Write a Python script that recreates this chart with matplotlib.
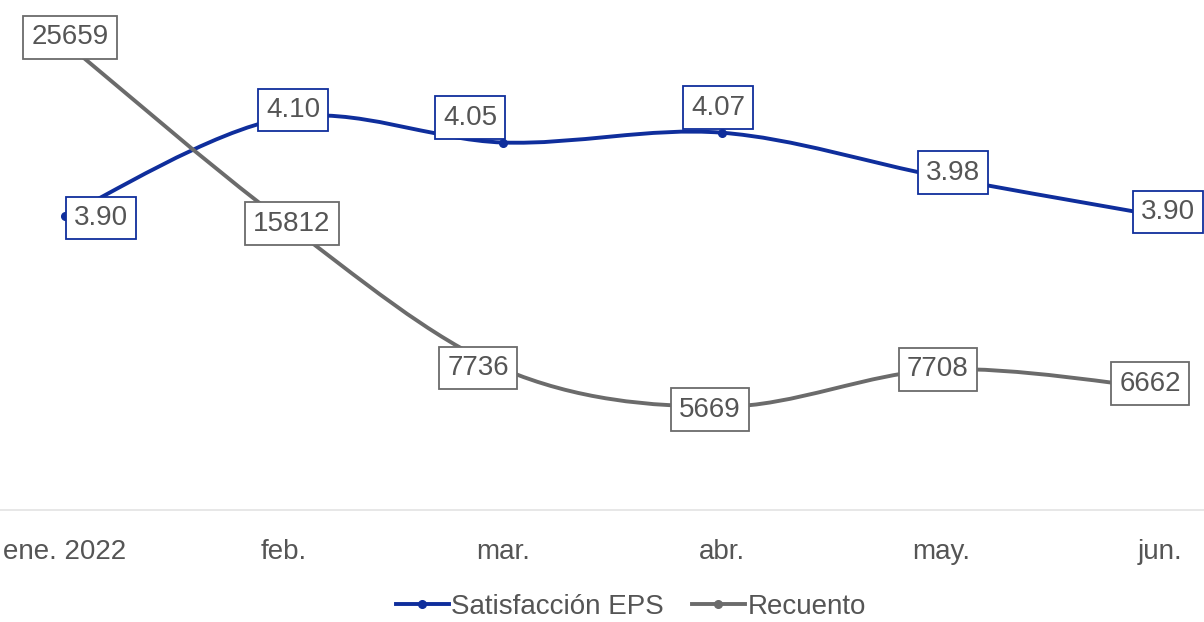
import numpy as np
import matplotlib
matplotlib.use("Agg")
import matplotlib.pyplot as plt
from matplotlib.path import Path
from matplotlib.patches import PathPatch
from matplotlib.lines import Line2D

# data
months = ["ene. 2022", "feb.", "mar.", "abr.", "may.", "jun."]
satisfaccion = [3.90, 4.10, 4.05, 4.07, 3.98, 3.90]
recuento = [25659, 15812, 7736, 5669, 7708, 6662]

blue = "#0F2E9C"
grey = "#6B6B6B"
text_col = "#555555"

plt.rcParams['font.family'] = ['Liberation Sans', 'DejaVu Sans']


def smooth_path(xs, ys):
    # catmull-rom spline turned into cubic bezier segments
    pts = np.column_stack([xs, ys]).astype(float)
    verts = [pts[0]]
    codes = [Path.MOVETO]
    n = len(pts)
    for i in range(n - 1):
        p0 = pts[i - 1] if i > 0 else pts[i]
        p1 = pts[i]
        p2 = pts[i + 1]
        p3 = pts[i + 2] if i + 2 < n else pts[i + 1]
        c1 = p1 + (p2 - p0) / 6.0
        c2 = p2 - (p3 - p1) / 6.0
        verts += [c1, c2, p2]
        codes += [Path.CURVE4] * 3
    return Path(verts, codes)


fig = plt.figure(figsize=(12.04, 6.22), dpi=100)
ax = fig.add_axes([0, 0.18, 1, 0.82])
ax2 = ax.twinx()

x = np.arange(len(months))
ax.set_xlim(-65 / 219, (1204 - 65) / 219)
ax.set_ylim(3.30, 3.90 + 216 / 490)
ax2.set_ylim(0, 27973)

ax.add_patch(PathPatch(smooth_path(x, satisfaccion), fill=False, edgecolor=blue,
                       lw=2.8, capstyle='round', zorder=2))
ax.plot(x, satisfaccion, 'o', color=blue, ms=5.5, zorder=3)
ax2.add_patch(PathPatch(smooth_path(x, recuento), fill=False, edgecolor=grey,
                        lw=2.8, capstyle='round', zorder=2))
ax2.plot(x, recuento, 'o', color=grey, ms=5.5, zorder=3)

blue_off = [(36, -2), (9, 8), (-33, 25), (-4, 25), (12, 4), (8, 4)]
grey_off = [(5, 5), (8, -2), (-25, 1), (-12, -3), (-3, 0), (-10, 5)]

for i, v in enumerate(satisfaccion):
    ax.annotate(f"{v:.2f}", (x[i], v), xytext=blue_off[i], textcoords='offset pixels',
                ha='center', va='center', fontsize=20, color=text_col, zorder=5,
                annotation_clip=False,
                bbox=dict(boxstyle='square,pad=0.3', fc='white', ec=blue, lw=1.3))
for i, v in enumerate(recuento):
    ax2.annotate(f"{v}", (x[i], v), xytext=grey_off[i], textcoords='offset pixels',
                 ha='center', va='center', fontsize=20, color=text_col, zorder=5,
                 annotation_clip=False,
                 bbox=dict(boxstyle='square,pad=0.3', fc='white', ec=grey, lw=1.3))

for a in (ax, ax2):
    for s in ('top', 'left', 'right'):
        a.spines[s].set_visible(False)
    a.set_yticks([])
ax2.spines['bottom'].set_visible(False)
ax.spines['bottom'].set_color('#E3E3E3')
ax.spines['bottom'].set_linewidth(1.2)

ax.set_xticks(x)
ax.set_xticklabels(months, fontsize=20, color=text_col)
ax.tick_params(axis='x', length=0, pad=21)

handles = [Line2D([], [], color=blue, lw=2.8, marker='o', ms=5.5),
           Line2D([], [], color=grey, lw=2.8, marker='o', ms=5.5)]
fig.legend(handles, ["Satisfacción EPS", "Recuento"], loc='center',
           bbox_to_anchor=(0.524, 0.024), ncol=2, frameon=False, fontsize=20,
           labelcolor=text_col, handlelength=1.9, handletextpad=0.1, columnspacing=1.0)

fig.savefig("out.png", dpi=100)
